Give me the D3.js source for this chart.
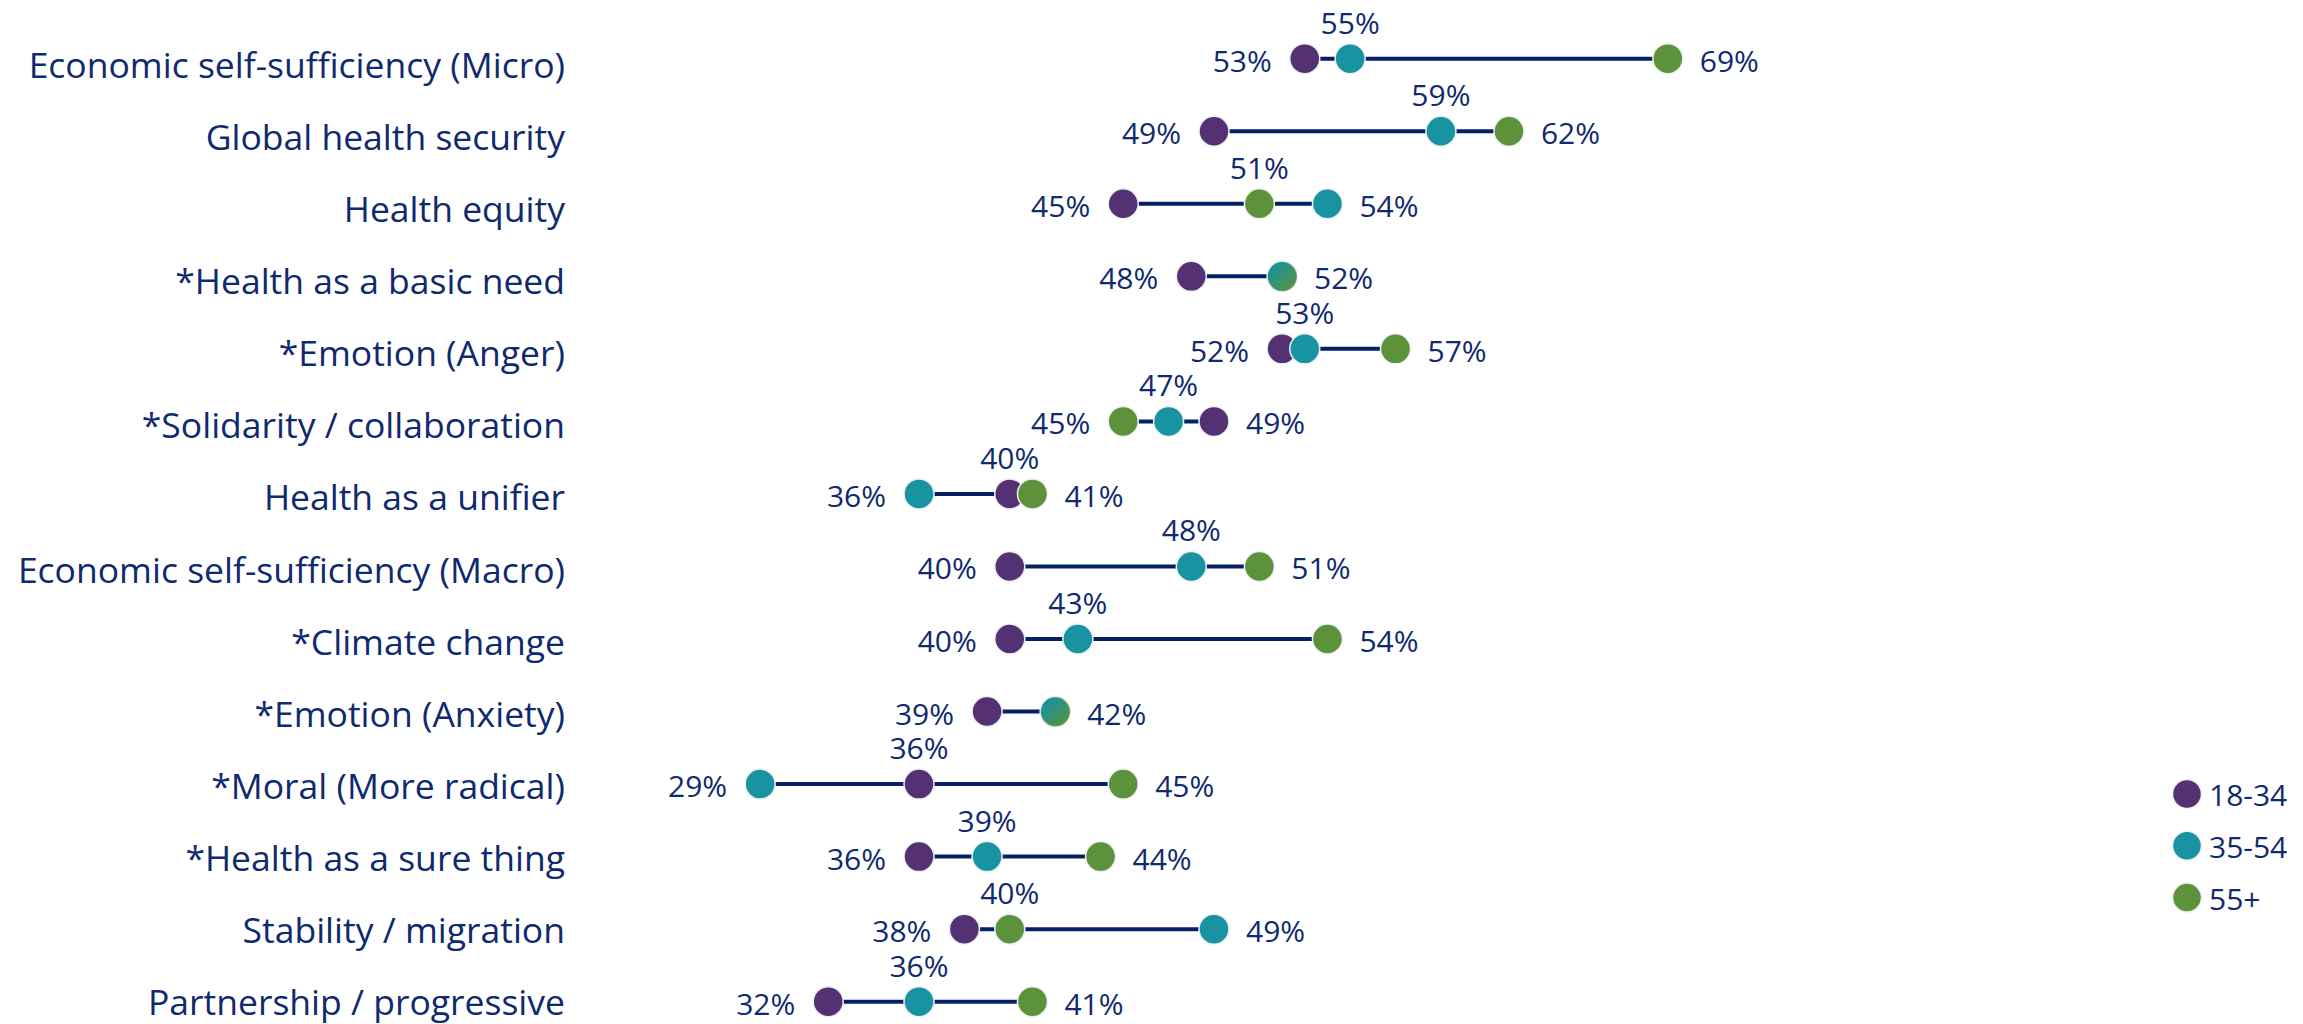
<!DOCTYPE html>
<html>
<head>
<meta charset="utf-8">
<script src="https://cdn.jsdelivr.net/npm/d3@7"></script>
<style>
  html, body { margin: 0; padding: 0; background: #ffffff; overflow: hidden; }
  svg { display: block; }
</style>
</head>
<body>
<svg id="chart"></svg>
<script>
// Share of each age group by message frame (%)
const categories = [
  "Economic self-sufficiency (Micro)",
  "Global health security",
  "Health equity",
  "*Health as a basic need",
  "*Emotion (Anger)",
  "*Solidarity / collaboration",
  "Health as a unifier",
  "Economic self-sufficiency (Macro)",
  "*Climate change",
  "*Emotion (Anxiety)",
  "*Moral (More radical)",
  "*Health as a sure thing",
  "Stability / migration",
  "Partnership / progressive"
];
const ageGroups = ["18-34", "35-54", "55+"];
const age18to34 = [53, 49, 45, 48, 52, 49, 40, 40, 40, 39, 36, 36, 38, 32];
const age35to54 = [55, 59, 54, 52, 53, 47, 36, 48, 43, 42, 29, 39, 49, 36];
const age55plus = [69, 62, 51, 52, 57, 45, 41, 51, 54, 42, 45, 44, 40, 41];
const groupColors = ["#533172", "#1793a1", "#5c9239"];

const W = 2303, H = 1024;
const textColor = "#0f2a6e";
const lineColor = "#062066";
const font = "'Open Sans', 'Noto Sans', sans-serif";

const series = [age18to34, age35to54, age55plus];
const rows = categories.map((c, i) => ({
  category: c,
  values: series.map((s, g) => ({ group: g, value: s[i] }))
}));

const svg = d3.select("#chart").attr("width", W).attr("height", H);
svg.append("rect").attr("width", W).attr("height", H).attr("fill", "#ffffff");

// Gradient used when a dot sits exactly on top of another one
const defs = svg.append("defs");
groupColors.forEach((col, g) => {
  const grad = defs.append("linearGradient")
    .attr("id", "fade-" + g)
    .attr("x1", 0).attr("y1", 0).attr("x2", 1).attr("y2", 1);
  grad.append("stop").attr("offset", 0.15).attr("stop-color", col).attr("stop-opacity", 0);
  grad.append("stop").attr("offset", 0.95).attr("stop-color", col).attr("stop-opacity", 1);
});

const x = d3.scaleLinear().domain([25, 70]).range([669.4, 1690.5]);
const y = d3.scalePoint().domain(categories).range([58.7, 1001.7]);
const yLabel = d3.scalePoint().domain(categories).range([78, 1015]);

// Category labels
svg.append("g").selectAll("text")
  .data(categories)
  .join("text")
  .attr("x", 565)
  .attr("y", d => yLabel(d))
  .attr("text-anchor", "end")
  .attr("font-family", font)
  .attr("font-size", 35.5)
  .attr("fill", textColor)
  .text(d => d);

const rowG = svg.append("g").selectAll("g")
  .data(rows)
  .join("g")
  .attr("transform", d => `translate(0,${y(d.category)})`);

// Range line from lowest to highest value
rowG.append("line")
  .attr("x1", d => x(d3.min(d.values, v => v.value)))
  .attr("x2", d => x(d3.max(d.values, v => v.value)))
  .attr("stroke", lineColor)
  .attr("stroke-width", 4);

// Dots, one per age group
rowG.each(function(d) {
  const g = d3.select(this);
  d.values.forEach((v, idx) => {
    const dup = d.values.slice(0, idx).some(o => o.value === v.value);
    g.append("circle")
      .attr("cx", x(v.value))
      .attr("cy", 0)
      .attr("r", 15)
      .attr("fill", dup ? `url(#fade-${v.group})` : groupColors[v.group])
      .attr("stroke", dup ? "none" : "#eef0f6")
      .attr("stroke-width", 1.5);
  });

  // Value labels: lowest on the left, highest on the right, middle above
  const distinct = Array.from(new Set(d.values.map(v => v.value))).sort((a, b) => a - b);
  distinct.forEach((val, k) => {
    let tx, ty, anchor;
    if (k === 0) { tx = x(val) - 33; ty = 13; anchor = "end"; }
    else if (k === distinct.length - 1) { tx = x(val) + 32; ty = 13; anchor = "start"; }
    else { tx = x(val); ty = -25; anchor = "middle"; }
    g.append("text")
      .attr("x", tx)
      .attr("y", ty)
      .attr("text-anchor", anchor)
      .attr("font-family", font)
      .attr("font-size", 30)
      .attr("fill", textColor)
      .text(val + "%");
  });
});

// Legend
const legend = svg.append("g").selectAll("g")
  .data(ageGroups)
  .join("g")
  .attr("transform", (d, i) => `translate(2187,${794 + i * 51.8})`);
legend.append("circle")
  .attr("r", 14.5)
  .attr("fill", (d, i) => groupColors[i])
  .attr("stroke", "#eef0f6")
  .attr("stroke-width", 1.5);
legend.append("text")
  .attr("x", 22)
  .attr("y", 12)
  .attr("font-family", font)
  .attr("font-size", 30)
  .attr("fill", textColor)
  .text(d => d);
</script>
</body>
</html>
